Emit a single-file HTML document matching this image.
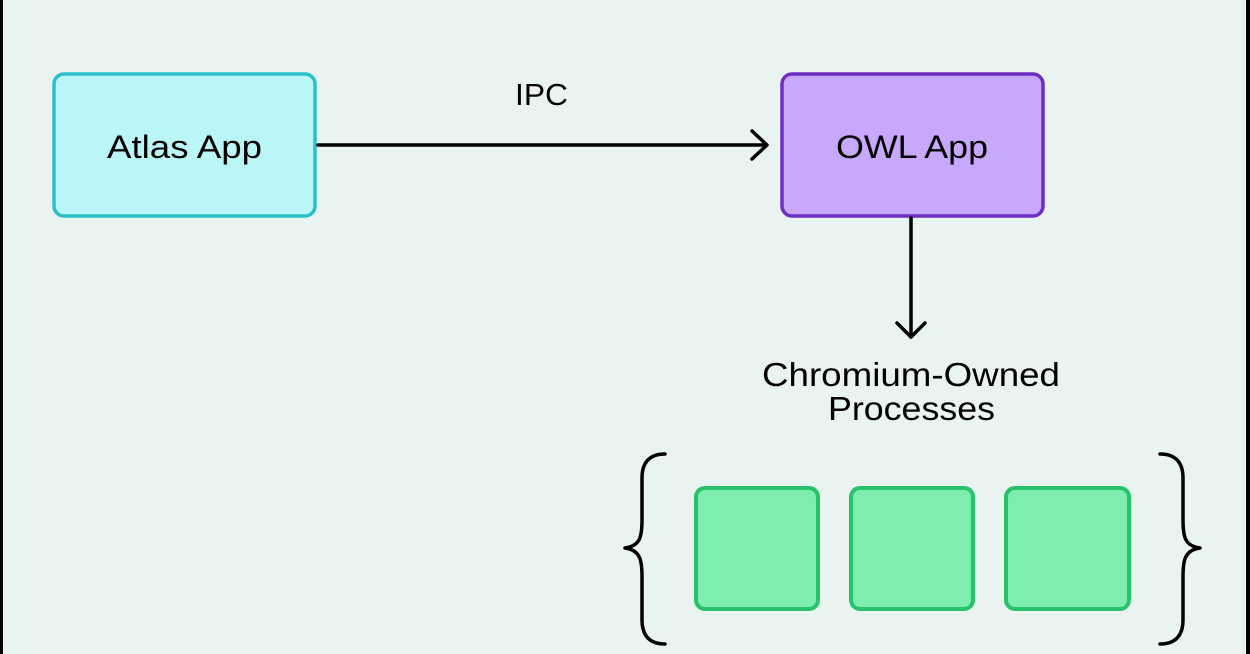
<!DOCTYPE html>
<html><head><style>
body{margin:0;width:1250px;height:654px;overflow:hidden;background:#e9f3ef;font-family:"Liberation Sans",sans-serif;}
</style></head><body>
<svg width="1250" height="654" style="position:absolute;left:0;top:0">
<rect x="0" y="0" width="3" height="654" fill="#000"/>
<rect x="1246" y="0" width="4" height="654" fill="#000"/>
<rect x="54" y="74" width="261" height="142" rx="10" fill="#baf6f8" stroke="#2bbfca" stroke-width="3.5"/>
<text x="107" y="158" font-size="32" textLength="155" lengthAdjust="spacingAndGlyphs" fill="#000">Atlas App</text>
<rect x="782" y="74" width="261" height="142" rx="10" fill="#c8a8fc" stroke="#6d2ec4" stroke-width="3.5"/>
<text x="836" y="158" font-size="32" textLength="152" lengthAdjust="spacingAndGlyphs" fill="#000">OWL App</text>
<text x="515" y="105" font-size="31" textLength="53" lengthAdjust="spacingAndGlyphs" fill="#000">IPC</text>
<g stroke="#000" stroke-width="3.5" fill="none" stroke-linecap="round" stroke-linejoin="round">
<line x1="318" y1="145" x2="766" y2="145"/>
<polyline points="752,131 767,145 752,159"/>
<line x1="911" y1="218" x2="911" y2="337"/>
<polyline points="897,323 911,337 925,323"/>
<path d="M665,454 C650,454 642,462 642,478 L642,520 C642,537 640,546 625,548 C640,550 642,560 642,576 L642,620 C642,636 650,644 665,644"/>
<path d="M1160,454 C1175,454 1183,462 1183,478 L1183,520 C1183,537 1185,546 1200,548 C1185,550 1183,560 1183,576 L1183,620 C1183,636 1175,644 1160,644"/>
</g>
<text x="762" y="386" font-size="33" textLength="298" lengthAdjust="spacingAndGlyphs" fill="#000">Chromium-Owned</text>
<text x="828" y="420" font-size="33" textLength="167" lengthAdjust="spacingAndGlyphs" fill="#000">Processes</text>
<g fill="#7deeb0" stroke="#27c26a" stroke-width="4">
<rect x="696" y="488" width="122" height="121" rx="9"/>
<rect x="851" y="488" width="122" height="121" rx="9"/>
<rect x="1006" y="488" width="123" height="121" rx="9"/>
</g>
</svg>
</body></html>
